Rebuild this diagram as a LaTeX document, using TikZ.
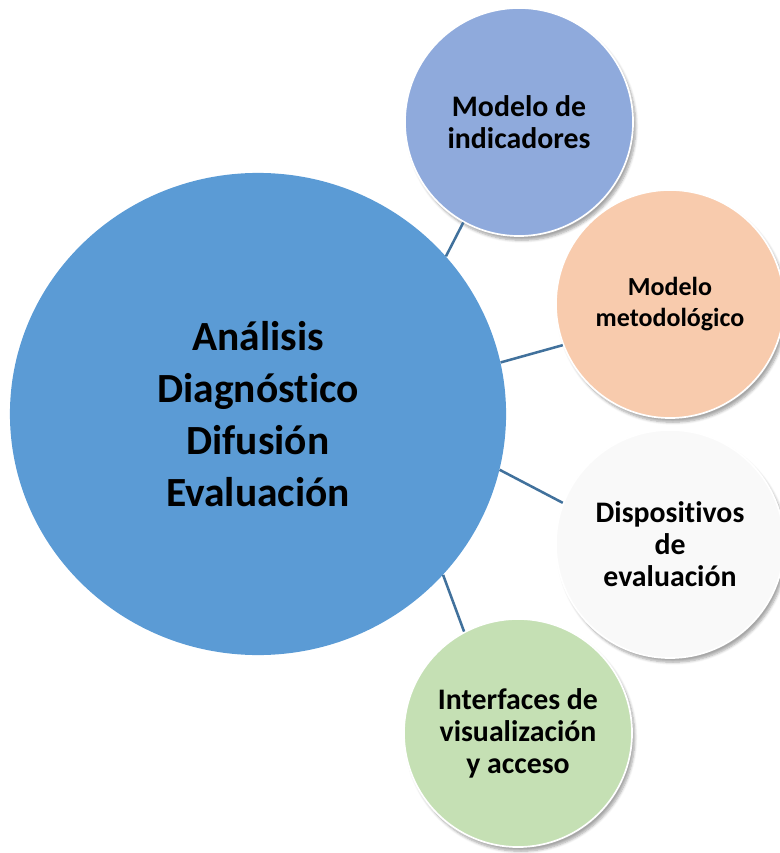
\documentclass[tikz,border=0pt]{standalone}
\usepackage{fontspec}
\setmainfont{Carlito}[Ligatures=NoCommon]
\usepackage{tikz}
\usetikzlibrary{shapes.geometric, shadows.blur}

\definecolor{kernblau}{RGB}{91,155,213}
\definecolor{indblau}{RGB}{143,170,220}
\definecolor{metorange}{RGB}{248,203,173}
\definecolor{dispgrau}{RGB}{249,249,249}
\definecolor{intgruen}{RGB}{197,224,180}
\definecolor{linienblau}{RGB}{65,113,156}

\begin{document}
\begin{tikzpicture}[x=0.025cm, y=0.025cm, inner sep=0pt,
	kern/.style={ellipse, fill=kernblau, minimum width=12.4cm, minimum height=12.05cm, align=center, font=\bfseries\fontsize{29.5}{37}\selectfont},
	kreis/.style={circle, draw=white, line width=1.2pt, minimum size=5.7cm, align=center, font=\bfseries\fontsize{21.2}{22.8}\selectfont, blur shadow={shadow xshift=2pt, shadow yshift=-3pt, shadow blur steps=6, shadow opacity=35}},
	verbindung/.style={draw=linienblau, line width=1.8pt}]

	\useasboundingbox (0,0) rectangle (779,-853);

	\node[kern](haupt) at (258,-414) {Análisis\\Diagnóstico\\Difusión\\Evaluación};

	\node[kreis, fill=indblau](ind) at (519,-122) {Modelo de\\indicadores};
	\node[kreis, fill=metorange, font=\bfseries\fontsize{18.5}{22}\selectfont](met) at (670,-304) {Modelo\\metodológico};
	\node[kreis, fill=dispgrau](disp) at (670,-544) {Dispositivos\\de\\evaluación};
	\node[kreis, fill=intgruen](int) at (518,-733) {Interfaces de\\visualización\\y acceso};

	% Verbindungen
	\draw[verbindung] (haupt.40) -- (ind.-119);
	\draw[verbindung] (haupt.12) -- (met.201);
	\draw[verbindung] (haupt.-13) -- (disp.159);
	\draw[verbindung] (haupt.-41) -- (int.118);
\end{tikzpicture}
\end{document}
